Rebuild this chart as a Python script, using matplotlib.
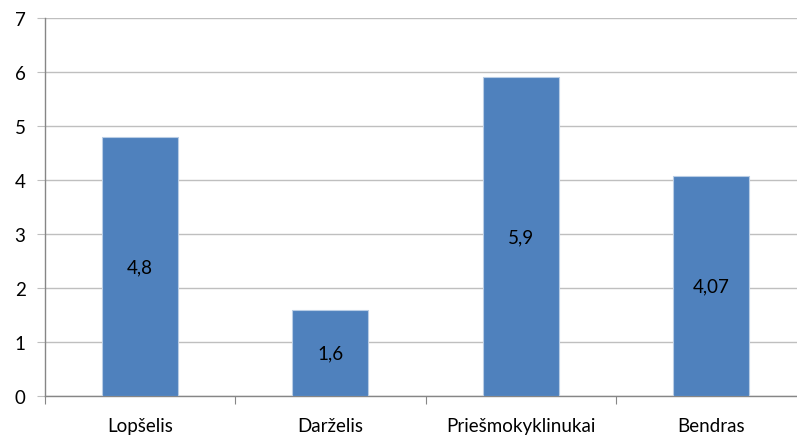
import matplotlib
matplotlib.use("Agg")
import matplotlib.pyplot as plt

categories = ["Lopšelis", "Darželis", "Priešmokyklinukai", "Bendras"]
values = [4.8, 1.6, 5.9, 4.07]
value_labels = ["4,8", "1,6", "5,9", "4,07"]
yticks = [0, 1, 2, 3, 4, 5, 6, 7]

plt.rcParams['font.family'] = ['Lato', 'DejaVu Sans']
FS = 13.5

W, H = 797, 439
fig = plt.figure(figsize=(W / 100, H / 100), dpi=100)
left, right, top, bottom = 45, 806, 19, 397
ax = fig.add_axes([left / W, 1 - bottom / H, (right - left) / W, (bottom - top) / H])

x = list(range(len(categories)))
bars = ax.bar(x, values, width=0.4, color="#4F81BD", edgecolor="#B9CDE5", linewidth=0.8, zorder=3)
for xi, v, lab in zip(x, values, value_labels):
    ax.text(xi, v / 2, lab, ha="center", va="center", fontsize=FS, color="black", zorder=4)

ax.set_xlim(-0.5, len(categories) - 0.5)
ax.set_ylim(0, 7)
ax.set_yticks(yticks)
ax.set_yticklabels([str(t) for t in yticks], fontsize=FS)
ax.yaxis.grid(True, color="#BFBFBF", linewidth=1.0, zorder=0)
ax.set_axisbelow(True)

ax.set_xticks([i + 0.5 for i in range(-1, len(categories))], minor=False)
ax.set_xticklabels([])
ax.set_xticks(x, minor=True)
ax.set_xticklabels(categories, minor=True, fontsize=FS)
ax.tick_params(axis="x", which="major", length=6, color="#868686", direction="out")
ax.tick_params(axis="x", which="minor", length=0, pad=15)
ax.tick_params(axis="y", length=6, color="#BFBFBF", pad=8)

for s in ["top", "right"]:
    ax.spines[s].set_visible(False)
for s in ["left", "bottom"]:
    ax.spines[s].set_color("#868686")
    ax.spines[s].set_linewidth(1.0)

fig.savefig("out.png", dpi=100)
